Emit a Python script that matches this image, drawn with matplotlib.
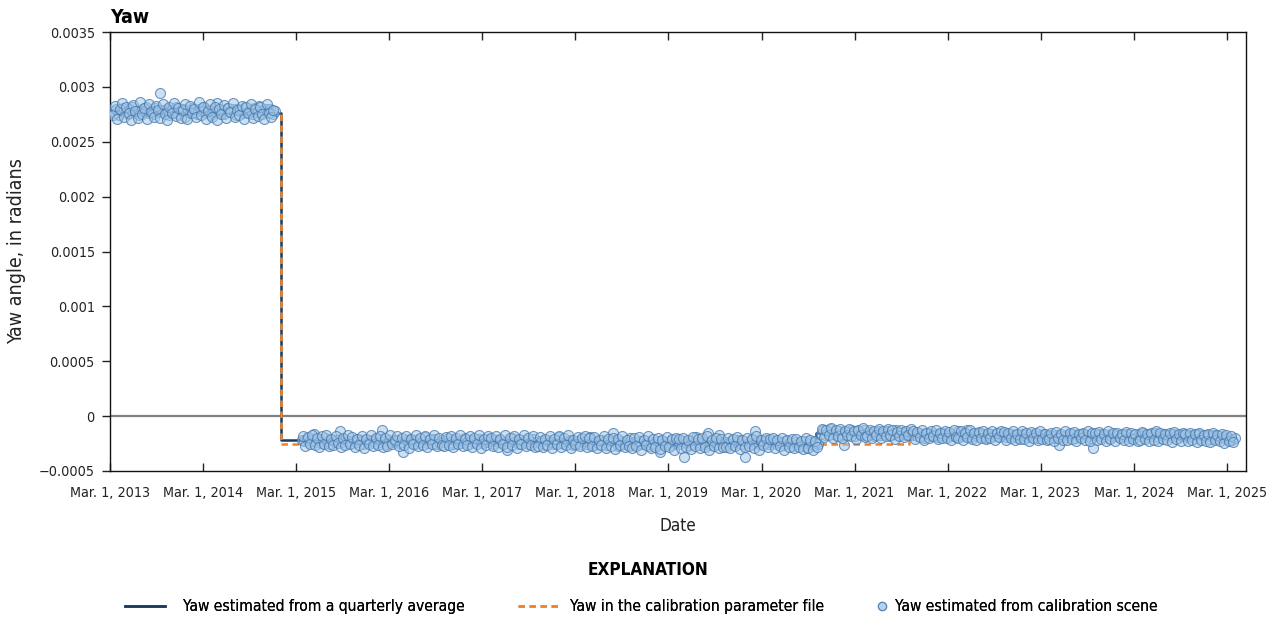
import matplotlib
matplotlib.use("Agg")
import matplotlib.pyplot as plt
from matplotlib.lines import Line2D
from matplotlib import font_manager
import numpy as np
import pandas as pd

# NOTE: the reference uses a condensed face; take one if the system has it
narrow = [f for f in font_manager.fontManager.ttflist
          if ("Condensed" in f.name or "Narrow" in f.name or "ondensed" in f.fname or "Narrow" in f.fname)
          and f.style == "normal"]
if narrow:
    plt.rcParams["font.family"] = [narrow[0].name, "DejaVu Sans"]
    plt.rcParams["font.stretch"] = narrow[0].stretch
    fs = 1.0
else:
    plt.rcParams["font.family"] = ["Liberation Sans", "DejaVu Sans"]
    fs = 0.9

# scene estimates, in micro-radians, three acquisition periods (two interleaved sets each)
seg1_span = ("2013-03-08", "2014-12-08")
seg1_yaw = [2780, 2760, 2800, 2745, 2790, 2810, 2770, 2755, 2795, 2820, 2765, 2780, 2740, 2800, 2775, 2815, 2760, 2790, 2750, 2805,
            2770, 2940, 2785, 2760, 2800, 2745, 2790, 2770, 2815, 2755, 2780, 2800, 2730, 2790, 2765, 2810, 2775, 2750, 2795, 2780,
            2820, 2760, 2785, 2745, 2800, 2775, 2850, 2765, 2790, 2755, 2810, 2780, 2770, 2795, 2740, 2800, 2785, 2760, 2815, 2770,
            2790, 2750, 2805, 2775, 2830, 2760, 2785, 2795, 2770, 2800, 2755, 2780]
seg1b_span = ("2013-03-12", "2014-12-02")
seg1b_yaw = [2740, 2830, 2710, 2795, 2850, 2725, 2815, 2760, 2700, 2835, 2780, 2720, 2860, 2750, 2810, 2705, 2845, 2770, 2730, 2825,
             2790, 2715, 2840, 2755, 2700, 2820, 2765, 2855, 2735, 2805, 2720, 2790, 2845, 2710, 2830, 2760, 2800, 2725, 2860, 2745,
             2815, 2705, 2780, 2840, 2730, 2820, 2700, 2795, 2750, 2835, 2715, 2810, 2770, 2850, 2725, 2790, 2740, 2830, 2705, 2820,
             2760, 2845, 2720, 2800, 2735, 2815, 2755, 2710, 2840, 2765, 2730, 2790]

seg2_span = ("2015-03-24", "2020-10-10")
seg2_yaw = [-215, -230, -205, -240, -220, -160, -235, -210, -245, -225, -200, -230, -250, -215, -235, -220, -140, -240, -210, -230,
            -225, -245, -215, -235, -205, -230, -250, -220, -240, -215, -230, -245, -210, -235, -130, -225, -250, -220, -240, -230,
            -215, -245, -235, -330, -220, -240, -205, -230, -250, -215, -235, -225, -190, -245, -220, -230, -210, -250, -235, -215,
            -240, -225, -200, -235, -250, -215, -230, -245, -220, -195, -235, -250, -215, -230, -240, -210, -225, -245, -235, -205,
            -230, -250, -220, -240, -215, -235, -245, -310, -225, -200, -240, -230, -255, -215, -235, -220, -250, -240, -210, -235,
            -225, -245, -230, -260, -215, -240, -235, -250, -220, -190, -245, -255, -230, -240, -215, -260, -235, -225, -250, -240,
            -230, -255, -190, -245, -265, -235, -250, -220, -240, -260, -230, -215, -150, -245, -270, -225, -240, -255, -235, -200,
            -250, -240, -265, -230, -255, -220, -245, -270, -235, -250, -260, -225, -330, -245, -240, -255, -230, -265, -245, -235,
            -250, -225, -370, -245, -260, -230, -255, -190, -240, -265, -235, -250, -150, -245, -260, -235, -250, -170, -240, -255,
            -235, -250, -225, -260, -240, -215, -255, -230, -370, -245, -225, -250, -140, -235, -255, -230, -245, -215, -250, -240,
            -225, -255, -235, -245, -265, -230, -250, -240, -270, -235, -255, -245, -260, -230, -290, -250, -240, -265, -245, -255]
seg2b_span = ("2015-03-28", "2020-10-06")
seg2b_yaw = [-180, -270, -190, -255, -175, -265, -200, -280, -185, -250, -170, -275, -205, -260, -180, -245, -285, -195, -265, -175,
             -250, -190, -280, -205, -265, -180, -290, -210, -255, -170, -275, -200, -260, -185, -280, -195, -270, -175, -255, -215,
             -185, -275, -200, -260, -180, -290, -210, -250, -175, -270, -195, -265, -185, -280, -205, -255, -170, -275, -200, -260,
             -275, -190, -265, -180, -285, -200, -250, -175, -270, -205, -260, -185, -280, -195, -255, -175, -290, -210, -265, -185,
             -195, -270, -180, -285, -205, -255, -175, -280, -200, -265, -185, -290, -210, -250, -170, -275, -195, -260, -185, -280,
             -270, -190, -285, -205, -260, -180, -295, -210, -255, -185, -280, -200, -265, -175, -290, -215, -250, -190, -275, -200,
             -185, -285, -200, -270, -190, -295, -215, -260, -180, -290, -205, -275, -195, -300, -210, -265, -185, -280, -220, -270,
             -290, -200, -275, -190, -305, -215, -265, -185, -295, -205, -280, -195, -300, -220, -270, -190, -285, -210, -310, -200,
             -205, -290, -195, -280, -215, -300, -190, -275, -210, -295, -200, -285, -185, -305, -220, -270, -195, -290, -210, -280,
             -280, -200, -295, -210, -270, -190, -300, -215, -285, -195, -275, -205, -290, -185, -305, -220, -265, -200, -285, -210,
             -200, -290, -215, -275, -195, -305, -220, -280, -205, -295, -210, -285, -225, -300, -200, -290, -215, -310, -230, -280]

seg3_span = ("2020-10-20", "2025-04-01")
seg3_yaw = [-160, -130, -175, -145, -120, -165, -150, -185, -135, -160, -265, -145, -170, -125, -155, -180, -140, -165, -150, -130,
            -170, -145, -160, -185, -150, -135, -175, -155, -165, -140, -180, -150, -160, -125, -170, -155, -145, -175, -160, -150,
            -175, -160, -185, -150, -170, -195, -165, -155, -180, -170, -160, -190, -175, -150, -165, -185, -170, -160, -180, -175,
            -140, -185, -165, -175, -130, -190, -160, -180, -170, -155, -185, -165, -195, -175, -160, -180, -170, -150, -185, -175,
            -165, -190, -175, -160, -185, -170, -195, -180, -165, -175, -190, -160, -185, -170, -180, -200, -175, -165, -190, -180,
            -170, -185, -195, -175, -265, -180, -180, -190, -170, -185, -165, -195, -175, -180, -160, -190, -175, -185, -200, -290,
            -185, -175, -160, -190, -180, -170, -195, -185, -165, -180, -175, -190, -170, -185, -160, -195, -180, -175, -190, -165,
            -180, -155, -190, -175, -165, -185, -150, -180, -195, -170, -160, -185, -175, -190, -165, -180, -200, -170, -185, -175,
            -190, -170, -185, -200, -175, -165, -195, -180, -190, -175, -205, -185, -170, -195, -180, -200, -190, -210, -195, -205,
            -215, -200]
seg3b_span = ("2020-10-24", "2025-03-26")
seg3b_yaw = [-115, -190, -125, -175, -110, -195, -130, -180, -120, -200, -135, -170, -115, -185, -140, -205, -125, -175, -110, -190,
             -180, -125, -195, -135, -170, -115, -200, -140, -185, -120, -175, -130, -205, -145, -180, -125, -190, -135, -170, -120,
             -135, -205, -145, -190, -130, -215, -150, -200, -140, -185, -125, -210, -155, -195, -135, -200, -145, -215, -130, -190,
             -200, -140, -215, -150, -190, -130, -205, -155, -220, -145, -195, -135, -210, -150, -200, -140, -215, -155, -190, -135,
             -145, -215, -150, -200, -140, -220, -160, -205, -135, -210, -150, -225, -145, -195, -155, -215, -140, -205, -160, -220,
             -210, -150, -225, -145, -200, -160, -215, -140, -220, -155, -205, -145, -230, -160, -200, -150, -215, -140, -225, -155,
             -150, -220, -145, -205, -160, -230, -140, -210, -155, -225, -150, -200, -165, -215, -145, -225, -155, -205, -160, -230,
             -220, -145, -210, -160, -230, -150, -215, -140, -225, -155, -205, -165, -220, -150, -235, -145, -210, -160, -225, -150,
             -160, -230, -150, -215, -165, -235, -155, -220, -170, -225, -160, -240, -155, -215, -170, -230, -165, -245, -175, -225,
             -180, -235]

# quarterly averages, micro-radians, one per quarter from 2013 Q1
quarter_first = "2013-01-01"
quarter_yaw = [2760, 2760, 2760, 2760, 2760, 2760, 2760, 2760,
               -220, -222, -225, -223, -226, -224, -228, -230,
               -227, -229, -231, -233, -235, -238, -240, -237,
               -242, -240, -238, -236, -238, -245, -250, -155,
               -150, -158, -165, -170, -172, -170, -175, -178,
               -180, -182, -180, -183, -178, -182, -185, -188,
               -195, -200]

# calibration parameter file values and their effective dates
cpf_dates = ["2013-01-01", "2015-01-01", "2021-10-01"]
cpf_yaw = [2760, -250, -175]
series_end = "2025-04-01"

year_ticks = list(range(2013, 2026))

NAVY = "#173a5e"
ORANGE = "#f0832a"
FACE = (0.64, 0.78, 0.90, 0.55)
EDGE = (0.27, 0.47, 0.69, 0.75)


def main():
    fig = plt.figure(figsize=(12.78, 6.23), dpi=100)
    ax = fig.add_axes([0.0861, 0.244, 0.8888, 0.7046])

    ax.axhline(0, color="#808080", lw=1.6, zorder=1)

    # NOTE: quarterly average as a step line
    q_dates = list(pd.date_range(quarter_first, periods=len(quarter_yaw), freq="QS"))
    q_dates.append(pd.Timestamp(series_end))
    q_vals = np.array(quarter_yaw + [quarter_yaw[-1]]) * 1e-6
    ax.step(q_dates, q_vals, where="post", color=NAVY, lw=1.8, zorder=2)

    c_dates = [pd.Timestamp(d) for d in cpf_dates] + [pd.Timestamp(series_end)]
    c_vals = np.array(cpf_yaw + [cpf_yaw[-1]]) * 1e-6
    ax.step(c_dates, c_vals, where="post", color=ORANGE, lw=1.8, dashes=(2.6, 1.8), zorder=3)

    sets = [(seg1_span, seg1_yaw), (seg1b_span, seg1b_yaw), (seg2_span, seg2_yaw),
            (seg2b_span, seg2b_yaw), (seg3_span, seg3_yaw), (seg3b_span, seg3b_yaw)]
    for span, vals in sets:
        d = pd.date_range(span[0], span[1], periods=len(vals))
        ax.scatter(d, np.array(vals) * 1e-6, s=52, facecolor=FACE, edgecolor=EDGE,
                   linewidths=0.8, zorder=4)

    ax.set_xlim(pd.Timestamp("2013-03-01"), pd.Timestamp("2025-05-15"))
    ax.set_ylim(-0.0005, 0.0035)

    xt = [pd.Timestamp(f"{y}-03-01") for y in year_ticks]
    ax.set_xticks(xt)
    ax.set_xticklabels([f"Mar. 1, {y}" for y in year_ticks])
    yt = [-0.0005, 0, 0.0005, 0.001, 0.0015, 0.002, 0.0025, 0.003, 0.0035]
    ax.set_yticks(yt)
    ax.set_yticklabels(["\u22120.0005", "0", "0.0005", "0.001", "0.0015", "0.002", "0.0025", "0.003", "0.0035"])

    ax.tick_params(axis="x", direction="in", top=True, length=6, width=1, labelsize=10.3 * fs, pad=11, colors="#222222")
    ax.tick_params(axis="y", direction="out", length=6, width=1, labelsize=10.3 * fs, pad=5, colors="#222222")
    for sp in ax.spines.values():
        sp.set_linewidth(1.0)
        sp.set_color("#111111")

    ax.set_xlabel("Date", fontsize=12.3 * fs, labelpad=12, color="#222222")
    ax.set_ylabel("Yaw angle, in radians", fontsize=14 * fs, color="#222222")
    ax.yaxis.set_label_coords(-0.074, 0.5)
    ax.text(0, 1.012, "Yaw", transform=ax.transAxes, fontsize=14 * fs, fontweight="bold",
            ha="left", va="bottom")

    fig.text(0.507, 0.085, "EXPLANATION", fontsize=12.3 * fs, fontweight="bold", ha="center", va="center")

    # NOTE: three one-entry legends so each handle sits where the reference has it
    lfs = 11.2 * fs
    entries = [
        (Line2D([], [], color=NAVY, lw=1.8), "Yaw estimated from a quarterly average", 125, 2.6, 1.15),
        (Line2D([], [], color=ORANGE, lw=1.8, dashes=(2.6, 1.8)), "Yaw in the calibration parameter file", 518, 2.7, 0.65),
        (Line2D([], [], ls="none", marker="o", markersize=6, markerfacecolor=FACE,
                markeredgecolor=EDGE, markeredgewidth=0.8), "Yaw estimated from calibration scene", 876, 0.8, 0.45),
    ]
    for handle, label, x_px, hlen, hpad in entries:
        leg = fig.legend([handle], [label], loc="center left", bbox_to_anchor=(x_px / 1278, 0.026),
                         frameon=False, fontsize=lfs, handlelength=hlen, handletextpad=hpad,
                         borderpad=0, borderaxespad=0)
        fig.add_artist(leg)

    fig.savefig("out.png", dpi=100)


main()
